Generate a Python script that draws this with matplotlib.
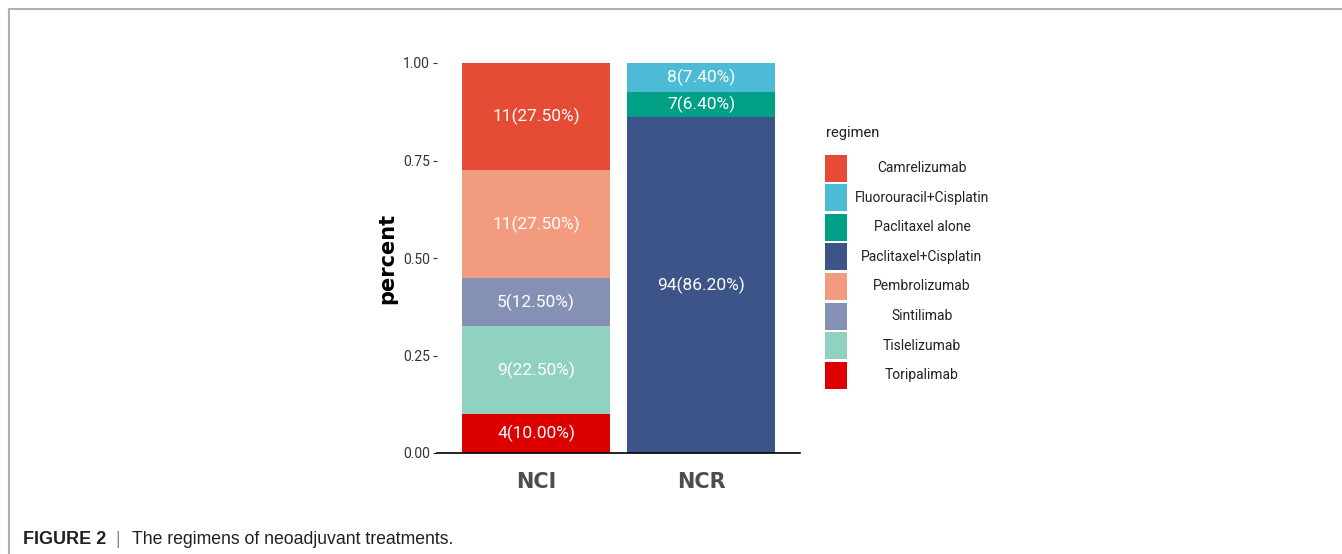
import matplotlib.pyplot as plt
from matplotlib.patches import Rectangle
from matplotlib.lines import Line2D

# data (bottom -> top within each bar)
groups = ["NCI", "NCR"]
nci_regimens = ["Toripalimab", "Tislelizumab", "Sintilimab", "Pembrolizumab", "Camrelizumab"]
nci_counts = [4, 9, 5, 11, 11]
nci_pcts = [10.00, 22.50, 12.50, 27.50, 27.50]
ncr_regimens = ["Paclitaxel+Cisplatin", "Paclitaxel alone", "Fluorouracil+Cisplatin"]
ncr_counts = [94, 7, 8]
ncr_pcts = [86.20, 6.40, 7.40]

legend_order = ["Camrelizumab", "Fluorouracil+Cisplatin", "Paclitaxel alone",
                "Paclitaxel+Cisplatin", "Pembrolizumab", "Sintilimab",
                "Tislelizumab", "Toripalimab"]
colors = {
    "Camrelizumab": "#E64B35",
    "Fluorouracil+Cisplatin": "#4DBBD5",
    "Paclitaxel alone": "#00A087",
    "Paclitaxel+Cisplatin": "#3C5488",
    "Pembrolizumab": "#F39B7F",
    "Sintilimab": "#8491B4",
    "Tislelizumab": "#91D1C2",
    "Toripalimab": "#DC0000",
}

W, H = 1342, 554
fig = plt.figure(figsize=(W / 100, H / 100), dpi=100)
ax = fig.add_axes([437 / W, (H - 453) / H, (800 - 437) / W, (453 - 63) / H])


def stack(xpos, regimens, counts, pcts):
    bottom = 0.0
    for reg, n, p in zip(regimens, counts, pcts):
        h = p / 100
        ax.bar(xpos, h, width=0.9, bottom=bottom, color=colors[reg], edgecolor="none")
        ax.text(xpos, bottom + h / 2, f"{n}({p:.2f}%)", ha="center", va="center",
                color="white", fontsize=12.5, family="Roboto")
        bottom += h


stack(1, nci_regimens, nci_counts, nci_pcts)
stack(2, ncr_regimens, ncr_counts, ncr_pcts)

ax.set_xlim(0.4, 2.6)
ax.set_ylim(0, 1)
ax.set_xticks([1, 2])
ax.set_xticklabels(groups, fontsize=15, fontweight="bold", color="#4d4d4d", family="DejaVu Sans")
ax.set_yticks([0, 0.25, 0.5, 0.75, 1.0])
ax.set_yticklabels(["0.00", "0.25", "0.50", "0.75", "1.00"], fontsize=10,
                   color="#333333", family="Roboto")
ax.tick_params(axis="x", length=0, pad=14)
ax.tick_params(axis="y", length=3, width=0.8, color="#333333", pad=2)
for s in ["top", "right", "left"]:
    ax.spines[s].set_visible(False)
ax.spines["bottom"].set_linewidth(1.2)
ax.spines["bottom"].set_color("black")
ax.set_ylabel("percent", fontsize=15, fontweight="bold", family="DejaVu Sans", labelpad=4)

# legend drawn in figure pixels
px = lambda x, y: (x / W, (H - y) / H)
fig.text(*px(826, 133), "regimen", fontsize=10.5, family="Roboto",
         color="#222222", va="center", ha="left")
for i, reg in enumerate(legend_order):
    yc = 168 + i * 29.6
    x0, y0 = px(825, yc + 13.5)
    fig.patches.append(Rectangle((x0, y0), 22 / W, 27 / H, transform=fig.transFigure,
                                 facecolor=colors[reg], edgecolor="none"))
    fig.text(*px(922, yc), reg, fontsize=10, family="Roboto", color="#222222",
             ha="center", va="center")

# frame lines and caption
fig.add_artist(Line2D([9 / W, 9 / W], [0, (H - 9) / H], color="#b0b0b0", lw=1.5,
                      transform=fig.transFigure))
fig.add_artist(Line2D([9 / W, 1], [(H - 9) / H, (H - 9) / H], color="#b0b0b0", lw=1.5,
                      transform=fig.transFigure))
fig.text(*px(23, 540), "FIGURE 2", fontsize=13, fontweight="bold", family="Liberation Sans",
         color="#231f20", va="center")
fig.text(*px(115, 540), "|", fontsize=12.7, family="Liberation Sans", color="#888888", va="center")
fig.text(*px(132, 540), "The regimens of neoadjuvant treatments.", fontsize=12.7,
         family="Liberation Sans", color="#231f20", va="center")

fig.savefig("out.png", dpi=100)
